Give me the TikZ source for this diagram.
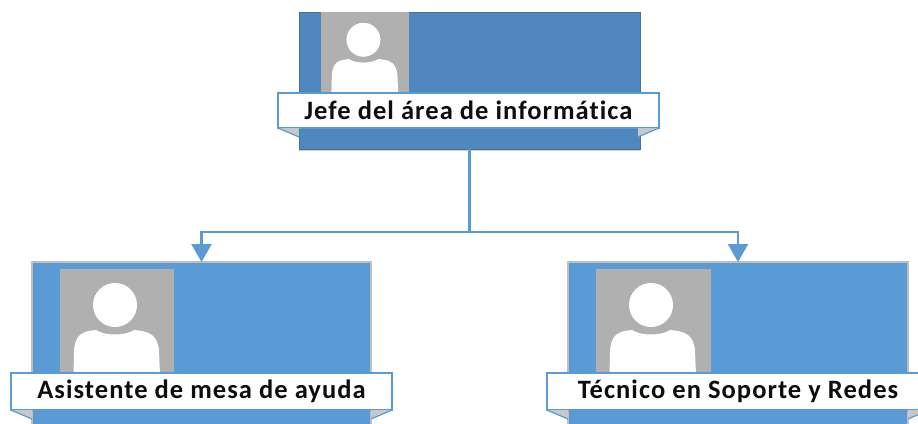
\documentclass[tikz,border=0pt]{standalone}
\usepackage{fontspec}
\setmainfont{Carlito}[LetterSpace=4, Ligatures={NoCommon}]
\usetikzlibrary{arrows.meta,shadows}
\definecolor{topfill}{HTML}{4F88BE}
\definecolor{topedge}{HTML}{41719C}
\definecolor{childfill}{HTML}{5B9BD5}
\definecolor{childedge}{HTML}{BFBFBF}
\definecolor{photogray}{HTML}{B0B0B0}
\definecolor{foldgray}{HTML}{C8C8C8}
\definecolor{conncol}{HTML}{5B9BD5}
\definecolor{textcol}{HTML}{0D0D0D}
\newcommand\personsil[3]{%
  \begin{scope}[shift={(#1,#2)},scale=#3]
    \fill[white] (55,36) circle[radius=22];
    \fill[white] (13,130) -- (14,82) .. controls (15,66) and (22,62) .. (36,61)
      .. controls (45,67) and (65,67) .. (74,61)
      .. controls (89,62) and (98,66) .. (99,82) -- (101,130) -- cycle;
  \end{scope}}
\tikzset{
  every node/.style={inner sep=0pt, outer sep=0pt, anchor=north west},
  topbox/.style={draw=topedge, line width=1pt, fill=topfill,
    minimum width=341pt, minimum height=137pt,
    drop shadow={shadow xshift=0pt, shadow yshift=-1.5pt, opacity=0.18, fill=black}},
  childbox/.style={draw=childedge, line width=1.2pt, fill=childfill,
    minimum width=339pt, minimum height=180pt,
    drop shadow={shadow xshift=0pt, shadow yshift=-1.5pt, opacity=0.18, fill=black}},
  photo/.style={fill=photogray},
  namebox/.style={draw=conncol, line width=1.2pt, fill=white,
    minimum width=381pt, minimum height=36pt, text=textcol,
    font=\bfseries\fontsize{26.5}{31}\selectfont},
  fold/.style={fill=foldgray},
  foldline/.style={draw=conncol, line width=1.2pt},
  conn/.style={draw=conncol, line width=2.5pt},
  arrowtip/.style={-{Triangle[width=20pt,length=18pt]}}
}
\begin{document}
\begin{tikzpicture}[x=1pt,y=-1pt]
  \useasboundingbox (0,0) rectangle (918,423);
  \clip (0,0) rectangle (918,423);
  % top box
  \node[topbox] (top) at (299,12) {};
  \node[photo, minimum width=88pt, minimum height=85pt] (ptop) at (321,12) {};
  \personsil{321}{12}{0.772}
  % children
  \node[childbox] (c1) at (32,262) {};
  \node[photo, minimum width=114pt, minimum height=110pt] (p1) at (60,269) {};
  \personsil{60}{269}{1}
  \node[childbox, minimum width=340pt] (c2) at (568,262) {};
  \node[photo, minimum width=115pt, minimum height=110pt] (p2) at (596,269) {};
  \personsil{596}{269}{1}
  % connectors
  \coordinate (mid) at (469.5,232);
  \draw[conn] (top.south) -- (mid);
  \draw[conn, arrowtip] (mid) -| (c1.north);
  \draw[conn, arrowtip] (mid) -| (c2.north);
  % labels
  \node[namebox, minimum height=35pt] (ltop) at (278,93) {Jefe del área de informática};
  \node[namebox, minimum height=37pt] (l1) at (11,373) {Asistente de mesa de ayuda};
  \node[namebox, minimum width=382pt, minimum height=37pt] (l2) at (547,373) {Técnico en Soporte y Redes};
  % folds
  \foreach \L in {ltop,l1,l2}{
    \fill[fold] (\L.south west) -- ++(21,9) -- ++(0,-9) -- cycle;
    \draw[foldline] (\L.south west) -- ++(21,9);
    \fill[fold] (\L.south east) -- ++(-21,9) -- ++(0,-9) -- cycle;
    \draw[foldline] (\L.south east) -- ++(-21,9);
  }
\end{tikzpicture}
\end{document}
